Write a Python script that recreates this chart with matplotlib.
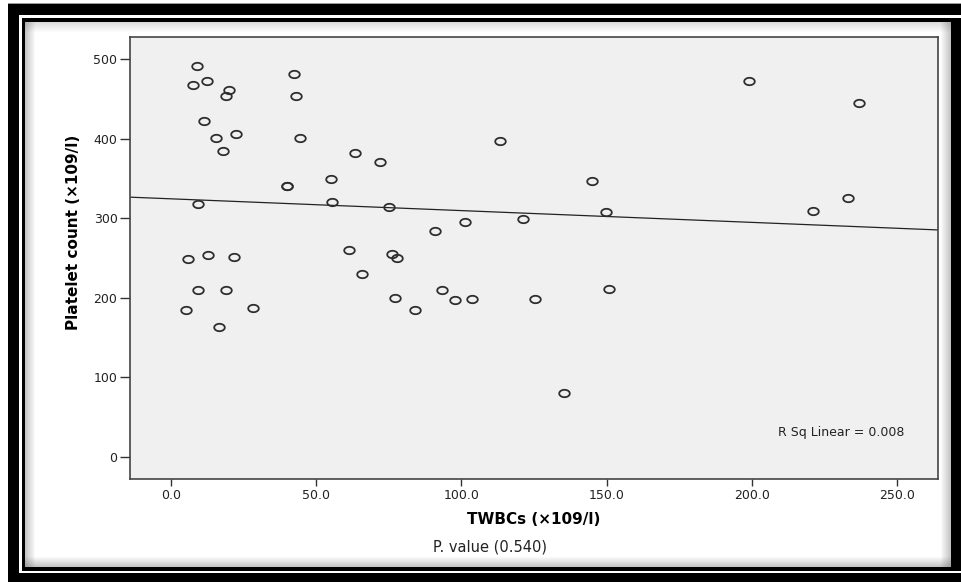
import matplotlib
matplotlib.use("Agg")
import matplotlib.pyplot as plt
import numpy as np
from matplotlib.patches import Rectangle
from matplotlib.path import Path

# values
twbc = [8.85, 7.68, 12.4, 19.97, 18.84, 42.36, 42.94, 11.36, 22.28, 15.39,
        44.42, 17.91, 39.8, 40.1, 9.19, 5.75, 12.64, 21.8, 9.3, 19.04,
        5.27, 28.24, 16.63, 63.26, 71.97, 55.2, 55.44, 74.97, 101.1, 90.9,
        61.3, 76.1, 77.93, 65.77, 93.2, 77.24, 97.9, 103.5, 84.02, 113.2,
        145.0, 149.9, 121.3, 150.9, 125.3, 135.2, 199.1, 237.0, 233.1, 221.0]
platelets = [490.8, 467.7, 472.4, 460.7, 453.5, 480.8, 453.5, 421.7, 405.4, 400.4,
             400.4, 384.4, 340.8, 340.8, 318.2, 249.1, 254.1, 251.3, 210.2, 210.2,
             185.1, 187.2, 163.3, 381.5, 370.6, 349.6, 320.4, 314.4, 295.2, 284.3,
             260.4, 254.6, 250.0, 230.3, 210.2, 200.1, 197.2, 198.1, 185.1, 397.4,
             346.4, 307.4, 298.6, 211.1, 198.1, 80.0, 472.4, 444.3, 325.4, 309.0]

x_ticks = [0, 50, 100, 150, 200, 250]
y_ticks = [0, 100, 200, 300, 400, 500]

W, H = 961, 582
plt.rcParams["font.family"] = ["DejaVu Sans"]

fig = plt.figure(figsize=(W / 100, H / 100), dpi=100)
fig.patch.set_facecolor("white")


def px_rect(x0, y0, x1, y1, color, alpha=1.0):
    # pixel box measured from the top-left corner
    fig.add_artist(Rectangle((x0 / W, 1 - y1 / H), (x1 - x0) / W, (y1 - y0) / H,
                             transform=fig.transFigure, facecolor=color,
                             edgecolor="none", alpha=alpha, zorder=0))


# outer decorative frame
px_rect(8, 3, 961, 4, "#9a9a9a")
px_rect(8, 4, 961, 15, "black")
px_rect(8, 4, 19, 582, "black")
px_rect(8, 573, 961, 582, "black")
# inner frame
px_rect(22, 18, 953, 22, "black")
px_rect(22, 18, 25, 571, "black")
px_rect(951, 18, 961, 571, "black")
px_rect(22, 567, 961, 571, "black")
# soft inner shadow
for i in range(10):
    a = 0.35 * (1 - i / 10)
    px_rect(25 + i, 22, 26 + i, 567, "#555555", a)
    px_rect(25, 22 + i, 951, 23 + i, "#555555", a * 0.6)
    px_rect(950 - i, 22, 951 - i, 567, "#555555", a)
    px_rect(25, 566 - i, 951, 567 - i, "#555555", a)

ax = fig.add_axes([130 / W, 1 - 479 / H, 808 / W, 442 / H])
ax.set_facecolor("#f0f0f0")

theta = np.linspace(0, 2 * np.pi, 60)
ellipse = Path(np.column_stack([np.cos(theta), 0.7 * np.sin(theta)]), closed=True)
ax.plot(twbc, platelets, linestyle="none", marker=ellipse, markersize=7.6,
        markerfacecolor="none", markeredgecolor="#2e2e2e", markeredgewidth=1.3,
        zorder=3)

x_lo, x_hi = -14.1, 264.1
slope, intercept = np.polyfit(twbc, platelets, 1)
xs = np.array([x_lo, x_hi])
ax.plot(xs, slope * xs + intercept, color="#222222", linewidth=0.9, zorder=2)

ax.set_xlim(x_lo, x_hi)
ax.set_ylim(-27.6, 527.7)
ax.set_xticks(x_ticks)
ax.set_xticklabels([f"{v:.1f}" for v in x_ticks])
ax.set_yticks(y_ticks)
ax.set_yticklabels([str(v) for v in y_ticks])
ax.tick_params(axis="x", length=5, width=1.0, color="#333333", pad=2,
               labelsize=9, labelcolor="#222222")
ax.tick_params(axis="y", length=7.5, width=1.0, color="#333333", pad=1.5,
               labelsize=9, labelcolor="#222222")
for sp in ax.spines.values():
    sp.set_color("#444444")
    sp.set_linewidth(1.2)

ax.set_xlabel("TWBCs (×109/l)", fontsize=11, fontweight="bold")
ax.xaxis.set_label_coords(0.5, -0.075)
ax.set_ylabel("Platelet count (×109/l)", fontsize=11, fontweight="bold")
ax.yaxis.set_label_coords(-0.0606, 0.557)

ax.text(0.959, 0.106, "R Sq Linear = 0.008", transform=ax.transAxes,
        ha="right", va="center", fontsize=9, color="#222222")
fig.text(490 / W, 1 - 547 / H, "P. value (0.540)", ha="center", va="center",
         fontsize=10.5, color="#222222")

fig.savefig("out.png", dpi=100)
